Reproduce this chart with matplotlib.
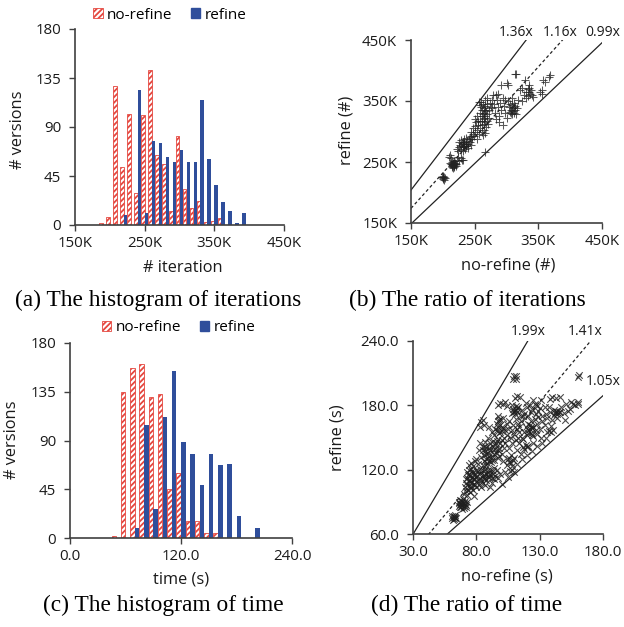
import numpy as np
import matplotlib
matplotlib.use("Agg")
import matplotlib.pyplot as plt
from matplotlib.patches import Patch

plt.rcParams['font.family'] = ['Open Sans', 'DejaVu Sans']
plt.rcParams['hatch.linewidth'] = 1.3

# ---------------- data ----------------
iter_bins = [190, 200, 210, 220, 230, 240, 250, 260, 270, 280, 290,
             300, 310, 320, 330, 340, 350, 360, 370, 380, 390]   # K
iter_norefine = [2, 7, 128, 53, 102, 29, 101, 142, 64, 56, 13,
                 82, 33, 16, 22, 3, 4, 6, 0, 0, 0]
iter_refine = [0, 0, 0, 9, 0, 124, 11, 77, 75, 62, 58,
               69, 58, 58, 115, 61, 37, 21, 13, 2, 11]

time_bins = [50, 60, 70, 80, 90, 100, 110, 120, 130, 140, 150,
             160, 170, 180, 190, 200]
time_norefine = [2, 135, 157, 161, 130, 133, 45, 60, 16, 16, 5, 5, 0, 0, 0, 0]
time_refine = [0, 0, 9, 104, 27, 112, 154, 89, 78, 49, 78, 67, 68, 20, 0, 9]

# scatter (b): (no-refine, refine) iterations in K
iter_pairs = [
    (200, 224), (201, 222), (202, 225), (203, 223), (199, 226), (201, 226),
    (202, 221), (200, 227),
    (211, 261), (210, 258), (213, 256),
    (213, 246), (215, 244), (216, 248), (217, 243), (218, 246), (219, 249),
    (215, 250), (214, 242), (217, 245), (220, 244), (216, 240), (218, 251),
    (221, 247), (212, 249), (214, 247), (216, 245), (218, 242), (219, 246),
    (222, 253), (224, 258), (226, 251), (230, 254), (232, 253), (228, 256),
    (222, 272), (225, 275), (227, 278), (228, 270), (230, 281), (231, 274),
    (233, 277), (234, 283), (235, 271), (236, 280), (237, 276), (238, 285),
    (239, 279), (240, 273), (241, 288), (242, 282), (226, 282), (229, 286),
    (224, 268), (232, 268), (243, 291), (237, 290), (233, 287), (245, 278),
    (244, 293), (229, 276), (231, 279), (234, 275), (236, 277), (232, 282),
    (245, 300), (247, 296), (248, 305), (249, 292), (250, 309), (251, 299),
    (252, 315), (253, 303), (254, 288), (255, 311), (256, 318), (257, 296),
    (258, 306), (246, 287), (250, 320), (253, 325), (257, 348),
    (258, 330), (259, 318), (260, 340), (260, 349), (261, 325), (262, 335),
    (262, 310), (263, 345), (264, 320), (264, 302), (265, 330), (265, 338),
    (266, 315), (266, 352), (267, 325), (267, 342), (268, 308), (268, 333),
    (269, 318), (269, 355), (270, 328), (270, 345), (261, 300), (263, 294),
    (266, 298), (258, 343), (271, 312), (272, 336), (273, 322), (274, 347),
    (266, 267), (263, 328), (265, 322), (267, 335), (264, 312), (262, 318),
    (275, 340), (277, 338), (278, 352), (280, 345), (282, 330), (284, 360),
    (285, 351), (287, 340), (288, 325), (290, 347), (291, 376), (292, 335),
    (294, 355), (296, 342), (297, 352), (298, 330), (300, 322), (300, 379),
    (279, 360), (283, 320), (286, 362), (295, 310), (289, 315),
    (303, 376), (304, 340), (305, 332), (306, 345), (307, 336), (308, 328),
    (309, 343), (310, 338), (311, 331), (312, 347), (313, 335), (314, 341),
    (315, 329), (316, 338), (313, 395), (315, 394), (308, 355), (302, 350),
    (318, 352), (309, 334), (311, 340), (307, 331),
    (321, 368), (324, 371), (327, 360), (329, 384), (331, 365), (334, 358),
    (335, 372), (337, 362), (338, 368), (340, 360), (342, 357), (336, 376),
    (330, 355), (325, 350), (333, 370), (336, 365),
    (353, 365), (355, 362), (358, 384), (361, 381), (366, 390), (368, 393),
    (356, 368),
]

# scatter (d): (no-refine, refine) time in seconds
time_pairs = [
    (61, 75), (62, 76), (63, 74.5), (62.5, 77), (61.5, 73.5), (63.5, 76),
    (64, 75), (60.5, 76.5), (62, 74), (63, 77.5),
    (66, 86), (67, 88), (68, 85), (68.5, 90), (69, 87), (70, 89), (70.5, 84.5),
    (71, 91), (67.5, 92), (72, 87), (69.5, 93), (66.5, 90), (71.5, 85.5),
    (73, 90), (67, 85.5), (68, 88), (69, 91), (70, 86.5), (66, 88.5),
    (68.5, 83.5), (71, 88),
    (70, 97), (72, 100), (73, 96), (75, 99), (78, 95), (77, 101),
    (71, 104), (72, 108), (73, 112), (74, 105), (74.5, 116), (75, 110),
    (76, 103), (76.5, 113), (77, 118), (78, 107), (78.5, 111), (79, 115),
    (80, 120), (72.5, 118), (75.5, 121), (73.5, 101), (79.5, 104),
    (77.5, 123), (80.5, 109), (74, 124), (76, 126),
    (72, 111), (73, 106), (74, 109), (75, 114), (76, 108), (77, 111),
    (73.5, 115), (75.5, 105), (78, 116), (76.5, 119), (74.5, 120),
    (83, 112), (84, 118), (85, 108), (86, 115), (87, 121), (88, 110),
    (89, 117), (90, 113), (91, 120), (92, 108), (93, 116), (94, 122),
    (85.5, 124), (88.5, 126), (82, 106), (90.5, 104),
    (85, 114), (87, 112), (86, 119), (88, 116), (89, 120), (84, 110),
    (79, 106), (81, 110), (82, 116), (83, 121), (80, 113), (81, 119),
    (84, 104), (86, 111), (87, 106), (89, 113), (91, 116), (92, 112),
    (93, 119), (95, 114), (96, 120), (94, 111),
    (84, 132), (85, 138), (86, 128), (87, 142), (88, 135), (89, 131),
    (90, 140), (91, 145), (92, 133), (93, 138), (94, 129), (95, 143),
    (96, 136), (97, 131), (86.5, 146), (89.5, 150), (91.5, 127), (88, 124),
    (86, 134), (87, 137), (88, 140), (89, 136), (90, 133), (87.5, 130),
    (91, 138), (85.5, 141),
    (92, 142), (93, 147), (94, 135), (95, 139), (96, 147), (98, 133),
    (98, 140), (99, 145), (97, 138), (90, 128), (92, 129),
    (99, 116), (100, 107), (97, 112),
    (104, 124), (105, 130), (106, 127), (107, 134), (108, 123), (109, 129),
    (106.5, 119), (105, 113), (110, 118), (107, 126), (106, 131),
    (103, 118), (108, 120), (112, 125), (116, 130), (120, 134), (124, 137),
    (128, 142), (132, 145), (135, 150), (115, 135), (125, 145), (110, 131),
    (117, 141), (119, 143), (120, 141), (121, 142.5), (118, 139),
    (94, 152), (95, 158), (96, 163), (97, 149), (98, 166), (99, 155),
    (100, 160), (101, 168), (102, 150), (103, 157), (104, 163), (97.5, 170),
    (95.5, 145), (100.5, 148), (84, 164), (85, 166), (86, 162), (83, 160),
    (96, 157), (97, 160), (98, 154), (99, 162), (100, 156), (101, 159),
    (97, 165), (99, 167),
    (103, 145), (104, 152), (105, 158), (106, 165), (107, 150), (108, 157),
    (109, 162), (110, 153), (111, 167), (112, 158), (113, 163), (114, 155),
    (115, 170), (116, 150),
    (97, 180), (99, 182), (101, 181), (103, 183), (104, 179),
    (108, 173), (109, 177), (110, 175), (111, 179), (112, 174), (113, 178),
    (110.5, 172), (108.5, 180), (109.5, 174), (111, 176), (112, 177.5),
    (110.5, 187), (112, 189), (114.5, 188),
    (109, 205), (110, 207), (111, 204.5), (111.5, 207.5),
    (116, 176), (118, 172), (119, 182), (121, 170), (123, 174), (125, 185),
    (127, 172), (129, 175),
    (120, 178), (122, 180), (124, 177), (126, 181), (128, 179), (130, 177.5),
    (125, 160), (126, 167), (127, 157), (128, 163), (129, 169), (130, 158),
    (123, 165), (124, 152),
    (117, 149), (113, 150), (114, 145),
    (118, 155), (119, 160), (120, 152), (121, 157), (122, 162), (123, 154),
    (124, 159), (125, 151), (120.5, 163), (121, 154), (122, 158), (123, 160),
    (132, 165), (134, 162), (135, 172), (137, 178), (139, 161), (141, 176),
    (144, 168), (147, 178), (149, 173), (152, 175), (151, 181),
    (135.5, 155), (137, 156.5), (139, 155.5), (140.5, 157),
    (138, 186), (140, 187.5), (143, 186.5), (146, 188),
    (142, 173), (143, 175), (144, 172), (145, 174), (146, 173.5), (141, 171),
    (138, 174), (136, 168), (140, 166), (143.5, 173.5),
    (150, 166), (154, 177), (156, 181.6), (158, 180), (160.5, 181.6),
    (155, 183), (160.6, 183),
    (161, 208), (160, 206),
    (127.6, 153.7), (131, 150),
    (108, 145), (111, 148), (106, 140), (112, 138),
    (80, 130), (82, 138), (81, 125), (83, 145), (79, 128),
    (92, 155), (90, 160),
    (100, 135), (102, 140), (101, 128),
    (115, 165), (117, 170), (114, 160),
    (132, 170), (134, 178), (131, 185),
]

iter_ratios = [1.36, 1.16, 0.99]
time_ratios = [1.99, 1.41, 1.05]

iter_ticks = [150, 250, 350, 450]
count_ticks = [0, 45, 90, 135, 180]
time_xticks = [0, 120, 240]
d_xticks = [30, 80, 130, 180]
d_yticks = [60, 120, 180, 240]

RED = '#E5473F'
BLUE = '#2F4E9B'
AXC = '#404040'
TXT = '#1a1a1a'

W, H = 624, 627
fig = plt.figure(figsize=(W / 100, H / 100), dpi=100)


def add_axes(l, r, t, b):
    return fig.add_axes([l / W, 1 - b / H, (r - l) / W, (b - t) / H])


def style(ax):
    for s in ('top', 'right'):
        ax.spines[s].set_visible(False)
    for s in ('left', 'bottom'):
        ax.spines[s].set_color(AXC)
        ax.spines[s].set_linewidth(1.2)
    ax.tick_params(axis='both', direction='out', length=4, width=1.0,
                   color=AXC, labelsize=10.8, labelcolor=TXT)
    ax.tick_params(axis='x', pad=4)
    ax.tick_params(axis='y', pad=6)


def kfmt(v):
    return f"{int(v)}K"


LBL = 11.8

# ---------- (a) histogram of iterations ----------
axa = add_axes(75, 284, 29, 225)
xb = np.array(iter_bins, dtype=float)
axa.bar(xb - 2.5, iter_norefine, width=5.0, facecolor='white', edgecolor=RED,
        hatch='//////', linewidth=0.6)
axa.bar(xb + 2.5, iter_refine, width=4.8, color=BLUE, linewidth=0)
axa.set_xlim(150, 450)
axa.set_ylim(0, 180)
axa.set_xticks(iter_ticks)
axa.set_xticklabels([kfmt(v) for v in iter_ticks])
axa.set_yticks(count_ticks)
style(axa)
axa.set_xlabel('# iteration', fontsize=LBL, color=TXT)
axa.set_ylabel('# versions', fontsize=LBL, color=TXT)
axa.xaxis.set_label_coords(0.517, -0.219)
axa.xaxis.label.set_va('center')
axa.yaxis.set_label_coords(-0.273, 0.485)
axa.yaxis.label.set_va('center')

handles = [Patch(facecolor='white', edgecolor=RED, hatch='//////', linewidth=0.6,
                 label='no-refine'),
           Patch(facecolor=BLUE, edgecolor=BLUE, label='refine')]
axa.legend(handles=handles, loc='center', bbox_to_anchor=(0.455, 1.071), ncol=2,
           frameon=False, fontsize=11, handlelength=0.6, handleheight=0.6,
           handletextpad=0.3, columnspacing=1.2, borderaxespad=0)

# ---------- (b) ratio of iterations ----------
axb = add_axes(411, 602, 40, 223)
bx = [p[0] for p in iter_pairs]
by = [p[1] for p in iter_pairs]
axb.scatter(bx, by, marker='+', s=30, linewidths=0.75, color='#222222', alpha=0.75,
            zorder=3)
xs = np.array([150.0, 460.0])
for r, ls in zip(iter_ratios, ['-', '--', '-']):
    axb.plot(xs, r * xs, color='#222222', lw=0.9, ls=ls,
             dashes=(2.5, 2) if ls == '--' else (None, None))
axb.set_xlim(150, 450)
axb.set_ylim(150, 450)
axb.set_xticks(iter_ticks)
axb.set_xticklabels([kfmt(v) for v in iter_ticks])
axb.set_yticks([150, 250, 350, 450])
axb.set_yticklabels([kfmt(v) for v in [150, 250, 350, 450]])
style(axb)
axb.set_xlabel('no-refine (#)', fontsize=LBL, color=TXT)
axb.set_ylabel('refine (#)', fontsize=LBL, color=TXT)
axb.xaxis.set_label_coords(0.508, -0.230)
axb.xaxis.label.set_va('center')
axb.yaxis.set_label_coords(-0.337, 0.508)
axb.yaxis.label.set_va('center')
for txt, x, ha in [('1.36x', 315, 'center'), ('1.16x', 384, 'center'),
                   ('0.99x', 479, 'right')]:
    axb.text(x, 463, txt, ha=ha, va='center', fontsize=10, color=TXT,
             clip_on=False)

# ---------- (c) histogram of time ----------
axc = add_axes(70, 292, 343, 538)
tb = np.array(time_bins, dtype=float)
axc.bar(tb - 2.6, time_norefine, width=5.0, facecolor='white', edgecolor=RED,
        hatch='//////', linewidth=0.6)
axc.bar(tb + 2.6, time_refine, width=4.8, color=BLUE, linewidth=0)
axc.set_xlim(0, 240)
axc.set_ylim(0, 180)
axc.set_xticks(time_xticks)
axc.set_xticklabels([f"{v:.1f}" for v in time_xticks])
axc.set_yticks(count_ticks)
style(axc)
axc.set_xlabel('time (s)', fontsize=LBL, color=TXT)
axc.set_ylabel('# versions', fontsize=LBL, color=TXT)
axc.xaxis.set_label_coords(0.5, -0.215)
axc.xaxis.label.set_va('center')
axc.yaxis.set_label_coords(-0.261, 0.503)
axc.yaxis.label.set_va('center')
axc.legend(handles=handles, loc='center', bbox_to_anchor=(0.489, 1.077), ncol=2,
           frameon=False, fontsize=11, handlelength=0.6, handleheight=0.6,
           handletextpad=0.3, columnspacing=1.2, borderaxespad=0)

# ---------- (d) ratio of time ----------
axd = add_axes(413, 603, 341, 534)
dx = [p[0] for p in time_pairs]
dy = [p[1] for p in time_pairs]
axd.scatter(dx, dy, marker='x', s=22, linewidths=0.8, color='#1e1e1e', alpha=0.8,
            zorder=3)
xs = np.array([25.0, 185.0])
for r, ls in zip(time_ratios, ['-', '--', '-']):
    axd.plot(xs, r * xs, color='#222222', lw=0.9, ls=ls,
             dashes=(2.5, 2) if ls == '--' else (None, None))
axd.set_xlim(30, 180)
axd.set_ylim(60, 240)
axd.set_xticks(d_xticks)
axd.set_xticklabels([f"{v:.1f}" for v in d_xticks])
axd.set_yticks(d_yticks)
axd.set_yticklabels([f"{v:.1f}" for v in d_yticks])
style(axd)
axd.set_xlabel('no-refine (s)', fontsize=LBL, color=TXT)
axd.set_ylabel('refine (s)', fontsize=LBL, color=TXT)
axd.xaxis.set_label_coords(0.495, -0.222)
axd.xaxis.label.set_va('center')
axd.yaxis.set_label_coords(-0.395, 0.501)
axd.yaxis.label.set_va('center')
for txt, x, y in [('1.99x', 120.8, 248.8), ('1.41x', 165.8, 248.8),
                  ('1.05x', 180.5, 202.3)]:
    axd.text(x, y, txt, ha='center', va='center', fontsize=10, color=TXT,
             clip_on=False)

# ---------- captions ----------
cap = dict(ha='center', va='center', fontsize=16.8, family='Liberation Serif',
           color='black')
fig.text(158 / W, 1 - 300 / H, '(a) The histogram of iterations', **cap)
fig.text(467 / W, 1 - 300 / H, '(b) The ratio of iterations', **cap)
fig.text(163 / W, 1 - 605 / H, '(c) The histogram of time', **cap)
fig.text(467 / W, 1 - 605 / H, '(d) The ratio of time', **cap)

fig.savefig('out.png', dpi=100)
